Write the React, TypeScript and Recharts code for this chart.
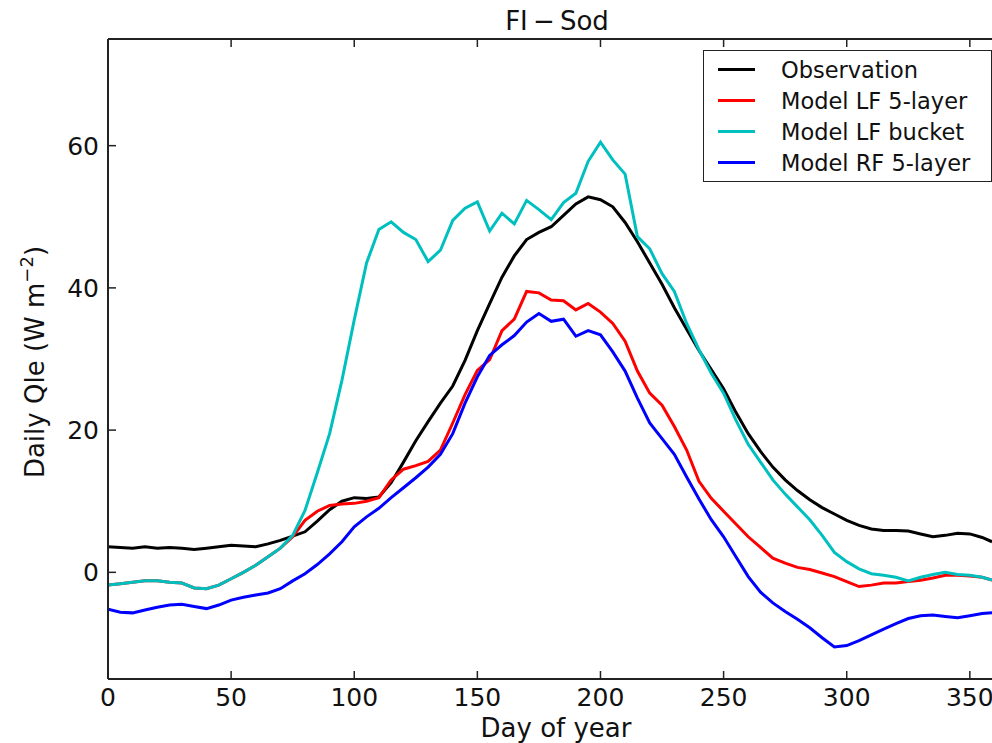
import React from "react";
import { LineChart, Line, XAxis, YAxis, Legend } from "recharts";

// day of year sampled every 5 days (last point is the right edge of the picture)
const DAYS = [
  0, 5, 10, 15, 20, 25, 30, 35, 40, 45, 50, 55, 60, 65, 70, 75, 80, 85, 90, 95,
  100, 105, 110, 115, 120, 125, 130, 135, 140, 145, 150, 155, 160, 165, 170, 175,
  180, 185, 190, 195, 200, 205, 210, 215, 220, 225, 230, 235, 240, 245, 250, 255,
  260, 265, 270, 275, 280, 285, 290, 295, 300, 305, 310, 315, 320, 325, 330, 335,
  340, 345, 350, 355, 359,
];

const OBSERVATION = [
  3.6, 3.5, 3.4, 3.6, 3.4, 3.5, 3.4, 3.2, 3.4, 3.6, 3.8, 3.7, 3.6, 4.0, 4.5, 5.1, 5.7, 7.2, 8.8, 10.0,
  10.5, 10.4, 10.6, 12.6, 15.5, 18.5, 21.2, 23.8, 26.2, 29.8, 34.0, 37.8, 41.5, 44.5, 46.8, 47.8,
  48.6, 50.2, 51.8, 52.8, 52.4, 51.4, 49.2, 46.5, 43.5, 40.5, 37.2, 34.2, 31.2, 28.5, 25.8, 22.5,
  19.5, 17.0, 14.8, 13.0, 11.5, 10.2, 9.1, 8.2, 7.3, 6.6, 6.1, 5.9, 5.9, 5.8, 5.4, 5.0,
  5.2, 5.5, 5.4, 4.9, 4.3,
];

const LF_5LAYER = [
  -1.8, -1.6, -1.4, -1.2, -1.2, -1.4, -1.5, -2.2, -2.3, -1.8, -0.9, 0.0, 1.0, 2.2, 3.4, 5.0, 7.3, 8.6, 9.4, 9.6,
  9.7, 10.0, 10.5, 13.0, 14.5, 15.0, 15.6, 17.2, 21.0, 25.0, 28.4, 29.9, 34.0, 35.6, 39.5, 39.3,
  38.3, 38.2, 36.9, 37.8, 36.6, 35.0, 32.5, 28.3, 25.2, 23.5, 20.5, 17.2, 12.8, 10.4, 8.6, 6.8,
  5.0, 3.5, 2.0, 1.3, 0.7, 0.4, -0.1, -0.6, -1.3, -2.0, -1.8, -1.5, -1.5, -1.3, -1.1, -0.8,
  -0.4, -0.4, -0.5, -0.7, -1.1,
];

const LF_BUCKET = [
  -1.8, -1.6, -1.4, -1.2, -1.2, -1.4, -1.5, -2.2, -2.3, -1.8, -0.9, 0.0, 1.0, 2.2, 3.4, 5.2, 8.7, 14.0, 19.5, 27.0,
  35.5, 43.5, 48.2, 49.3, 47.8, 46.8, 43.7, 45.3, 49.5, 51.2, 52.1, 48.0, 50.5, 49.0, 52.3, 51.0,
  49.6, 52.0, 53.3, 57.8, 60.5, 58.0, 56.0, 47.2, 45.5, 42.0, 39.5, 35.0, 31.3, 28.0, 25.2, 21.4,
  18.0, 15.5, 13.0, 11.0, 9.2, 7.4, 5.2, 2.8, 1.5, 0.5, -0.2, -0.4, -0.7, -1.2, -0.7, -0.3,
  0.0, -0.3, -0.4, -0.7, -1.1,
];

const RF_5LAYER = [
  -5.2, -5.6, -5.7, -5.3, -4.9, -4.6, -4.5, -4.8, -5.1, -4.6, -3.9, -3.5, -3.2, -2.9, -2.3, -1.2, -0.2, 1.1, 2.6, 4.3,
  6.4, 7.8, 9.0, 10.5, 11.9, 13.3, 14.8, 16.6, 19.5, 23.8, 27.5, 30.5, 32.0, 33.3, 35.2, 36.4,
  35.3, 35.6, 33.2, 34.0, 33.4, 31.0, 28.3, 24.5, 21.0, 18.8, 16.6, 13.4, 10.3, 7.4, 5.0, 2.2,
  -0.6, -2.8, -4.3, -5.5, -6.6, -7.8, -9.2, -10.5, -10.3, -9.6, -8.8, -8.0, -7.2, -6.5, -6.1, -6.0,
  -6.2, -6.4, -6.1, -5.8, -5.7,
];

const X_TICKS = [0, 50, 100, 150, 200, 250, 300, 350];
const Y_TICKS = [0, 20, 40, 60];

const SERIES = [
  { key: "obs", name: "Observation", color: "#000000" },
  { key: "lf5", name: "Model LF 5-layer", color: "#ff0000" },
  { key: "lfb", name: "Model LF bucket", color: "#00bfbf" },
  { key: "rf5", name: "Model RF 5-layer", color: "#0000ff" },
];

const FONT = "'DejaVu Sans', sans-serif";
const FRAME = "#222";

const rows = DAYS.map((day, i) => ({
  day,
  obs: OBSERVATION[i],
  lf5: LF_5LAYER[i],
  lfb: LF_BUCKET[i],
  rf5: RF_5LAYER[i],
}));

// matplotlib-style ticks: marks point into the plot
const BottomTick = (props: any) => {
  const { x, y, payload } = props;
  return (
    <g>
      <line x1={x} y1={y} x2={x} y2={y - 8} stroke={FRAME} strokeWidth={1.5} />
      <text x={x} y={y + 27} textAnchor="middle" fontSize={25} fontFamily={FONT} fill="#111">
        {payload.value}
      </text>
    </g>
  );
};

const TopTick = (props: any) => {
  const { x, y } = props;
  return <line x1={x} y1={y} x2={x} y2={y + 8} stroke={FRAME} strokeWidth={1.5} />;
};

const LeftTick = (props: any) => {
  const { x, y, payload } = props;
  return (
    <g>
      <line x1={x} y1={y} x2={x + 8} y2={y} stroke={FRAME} strokeWidth={1.5} />
      <text x={x - 9} y={y + 9} textAnchor="end" fontSize={25} fontFamily={FONT} fill="#111">
        {payload.value}
      </text>
    </g>
  );
};

const LegendBox = () => (
  <div
    style={{
      boxSizing: "border-box",
      width: 289,
      height: 132,
      border: `1.5px solid ${FRAME}`,
      background: "#fff",
      paddingTop: 3,
      fontFamily: FONT,
      fontSize: 22.5,
      color: "#111",
    }}
  >
    {SERIES.map((s) => (
      <div key={s.key} style={{ display: "flex", alignItems: "center", height: 31 }}>
        <div style={{ marginLeft: 14, width: 37, height: 3, background: s.color }} />
        <span style={{ marginLeft: 26, whiteSpace: "nowrap" }}>{s.name}</span>
      </div>
    ))}
  </div>
);

export default function App() {
  return (
    <div style={{ position: "absolute", left: 0, top: 0, width: 992, height: 743, background: "#fff" }}>
      <LineChart width={992} height={743} data={rows} margin={{ top: 37, right: 0, bottom: 0, left: 0 }}>
        <XAxis
          xAxisId="bottom"
          dataKey="day"
          type="number"
          domain={[0, 359]}
          ticks={X_TICKS}
          allowDataOverflow
          height={64}
          tickSize={0}
          tickMargin={0}
          tick={<BottomTick />}
          axisLine={{ stroke: FRAME, strokeWidth: 2 }}
        />
        <XAxis
          xAxisId="top"
          orientation="top"
          dataKey="day"
          type="number"
          domain={[0, 359]}
          ticks={X_TICKS}
          allowDataOverflow
          height={2}
          tickSize={0}
          tickMargin={0}
          tick={<TopTick />}
          axisLine={{ stroke: FRAME, strokeWidth: 2 }}
        />
        <YAxis
          type="number"
          domain={[-15, 75]}
          ticks={Y_TICKS}
          allowDataOverflow
          width={108}
          tickSize={0}
          tickMargin={0}
          tick={<LeftTick />}
          axisLine={{ stroke: FRAME, strokeWidth: 2 }}
        />
        <Legend
          layout="vertical"
          align="center"
          verticalAlign="middle"
          content={<LegendBox />}
          wrapperStyle={{ left: 703, top: 50, width: 289, height: 132 }}
        />
        {SERIES.map((s) => (
          <Line
            key={s.key}
            xAxisId="bottom"
            type="linear"
            dataKey={s.key}
            name={s.name}
            stroke={s.color}
            strokeWidth={3}
            dot={false}
            isAnimationActive={false}
          />
        ))}
        {/* keeps the top axis tied to a series so it is drawn */}
        <Line xAxisId="top" dataKey="obs" stroke="none" dot={false} legendType="none" isAnimationActive={false} />
      </LineChart>
      <svg
        width={992}
        height={743}
        style={{ position: "absolute", left: 0, top: 0, pointerEvents: "none" }}
        fontFamily={FONT}
        fill="#111"
      >
        <text x={557} y={30} textAnchor="middle" fontSize={26}>FI{"\u2009\u2212\u2009"}Sod</text>
        <text x={556} y={737} textAnchor="middle" fontSize={26}>Day of year</text>
        <text transform="rotate(-90)" x={-362} y={44} textAnchor="middle" fontSize={26}>
          Daily Qle (W m<tspan dy={-11} fontSize={18}>−2</tspan>
          <tspan dy={11}>)</tspan>
        </text>
      </svg>
    </div>
  );
}
